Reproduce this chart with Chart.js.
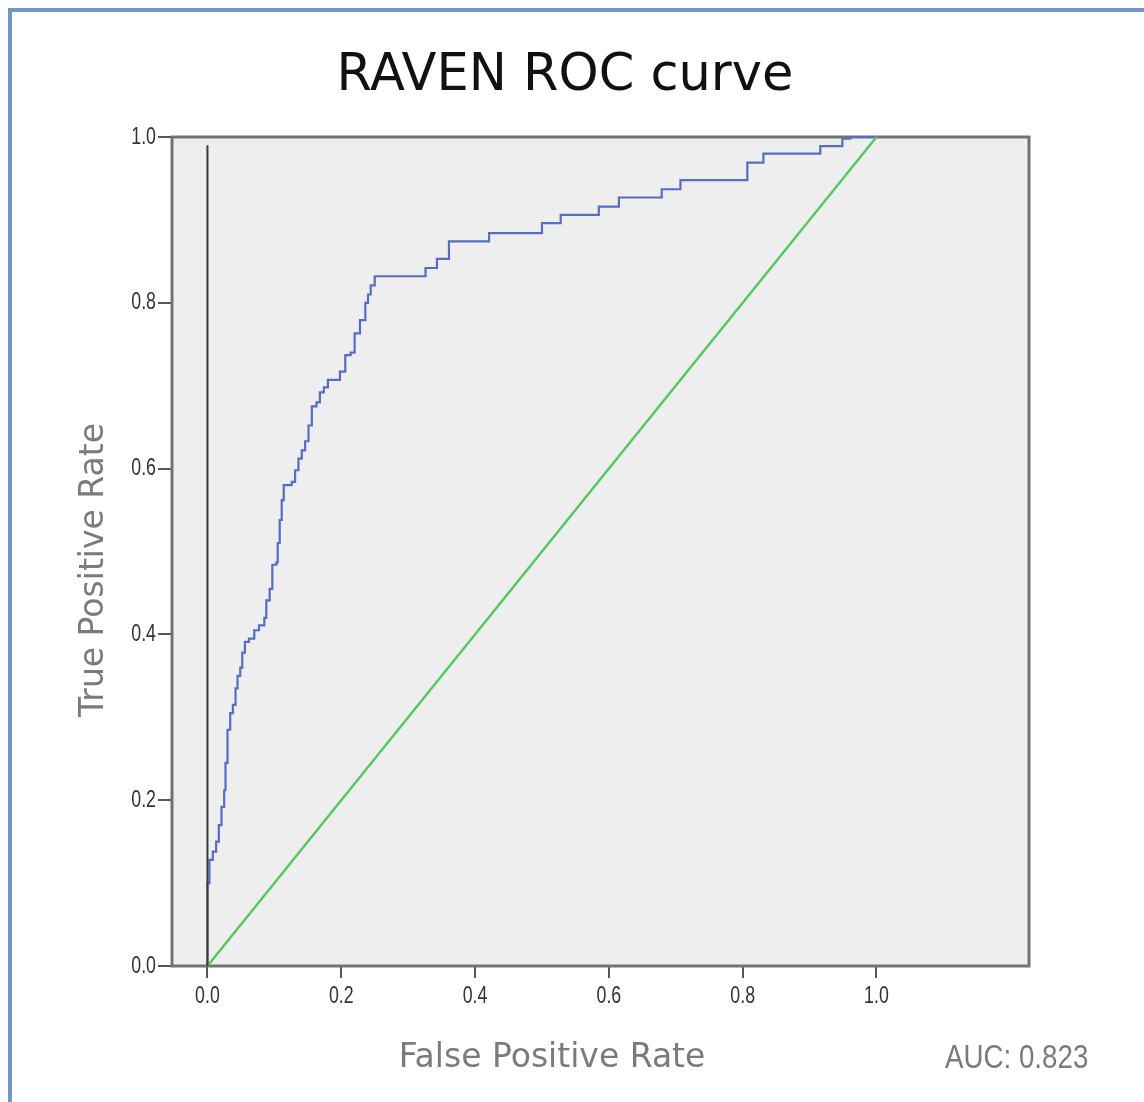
<!DOCTYPE html>
<html>
<head>
<meta charset="utf-8">
<title>RAVEN ROC curve</title>
<script src="https://cdn.jsdelivr.net/npm/chart.js@4.4.1/dist/chart.umd.min.js"></script>
<style>
  html, body { margin: 0; padding: 0; background: #fff; overflow: hidden; }
  #wrap { position: relative; width: 1144px; height: 1102px; }
  #frame {
    position: absolute; left: 8px; top: 8px; width: 1200px; height: 1200px;
    border-left: 4px solid #7196c6; border-top: 4px solid #7196c6;
  }
  #roc { position: absolute; left: 0; top: 0; }
</style>
</head>
<body>
<div id="wrap">
  <div id="frame"></div>
  <canvas id="roc" width="1144" height="1102"></canvas>
</div>
<script>
// ROC step points: false positive rate / true positive rate at each step
const fpr = [
  0.000, 0.000, 0.003, 0.008, 0.013, 0.017, 0.021, 0.025, 0.027, 0.030,
  0.034, 0.038, 0.042, 0.045, 0.049, 0.052, 0.056, 0.062, 0.070, 0.077,
  0.085, 0.088, 0.093, 0.097, 0.103, 0.105, 0.108, 0.111, 0.114, 0.126,
  0.131, 0.136, 0.141, 0.146, 0.151, 0.156, 0.163, 0.168, 0.174, 0.180,
  0.198, 0.206, 0.214, 0.220, 0.228, 0.236, 0.240, 0.244, 0.250, 0.326,
  0.343, 0.361, 0.421, 0.500, 0.528, 0.585, 0.615, 0.679, 0.707, 0.807,
  0.831, 0.916, 0.949, 0.961, 1.000
];
const tpr = [
  0.000, 0.100, 0.128, 0.138, 0.150, 0.170, 0.192, 0.212, 0.245, 0.285,
  0.305, 0.315, 0.335, 0.350, 0.360, 0.378, 0.391, 0.395, 0.405, 0.411,
  0.420, 0.441, 0.455, 0.484, 0.487, 0.510, 0.538, 0.562, 0.580, 0.584,
  0.598, 0.612, 0.622, 0.633, 0.652, 0.675, 0.680, 0.692, 0.698, 0.707,
  0.717, 0.737, 0.740, 0.763, 0.779, 0.800, 0.810, 0.821, 0.832, 0.842,
  0.853, 0.874, 0.884, 0.896, 0.906, 0.916, 0.927, 0.937, 0.948, 0.969,
  0.980, 0.989, 0.998, 1.000, 1.000
];

// chance line and the vertical reference line at x = 0
const diagX = [0, 1];
const diagY = [0, 1];
const refX = [0, 0];
const refY = [0, 0.99];

const xTickValues = [0, 0.2, 0.4, 0.6, 0.8, 1.0];
const yTickValues = [0, 0.2, 0.4, 0.6, 0.8, 1.0];
const xRange = [-0.053, 1.228];

const titleText = 'RAVEN ROC curve';
const xTitle = 'False Positive Rate';
const yTitle = 'True Positive Rate';
const aucText = 'AUC: 0.823';

const toPoints = (xs, ys) => xs.map((x, i) => ({ x, y: ys[i] }));

// narrow text: squeeze Liberation Sans horizontally
function narrowText(ctx, text, x, y, squeeze) {
  ctx.save();
  ctx.translate(x, y);
  ctx.scale(squeeze, 1);
  ctx.fillText(text, 0, 0);
  ctx.restore();
}

// grey plot panel with a dark frame
const panel = {
  id: 'panel',
  beforeDatasetsDraw(chart) {
    const { ctx, chartArea: a } = chart;
    ctx.save();
    ctx.fillStyle = '#eeeeee';
    ctx.fillRect(a.left, a.top, a.right - a.left, a.bottom - a.top);
    ctx.strokeStyle = '#727272';
    ctx.lineWidth = 3;
    ctx.strokeRect(a.left, a.top, a.right - a.left, a.bottom - a.top);
    ctx.restore();
  }
};

// condensed tick labels placed from the scales' own tick values
const tickLabels = {
  id: 'tickLabels',
  afterDraw(chart) {
    const { ctx, scales: { x, y } } = chart;
    ctx.save();
    ctx.fillStyle = '#333';
    ctx.font = '24px "Liberation Sans", Arial, sans-serif';
    ctx.textBaseline = 'middle';
    ctx.textAlign = 'right';
    y.ticks.forEach(t => {
      narrowText(ctx, t.value.toFixed(1), y.right - 16, y.getPixelForValue(t.value), 0.74);
    });
    ctx.textAlign = 'center';
    ctx.textBaseline = 'top';
    x.ticks.forEach(t => {
      narrowText(ctx, t.value.toFixed(1), x.getPixelForValue(t.value), x.top + 18, 0.74);
    });
    ctx.restore();
  }
};

// titles and AUC note
const labels = {
  id: 'labels',
  afterDraw(chart) {
    const ctx = chart.ctx;
    ctx.save();
    ctx.textBaseline = 'alphabetic';

    ctx.fillStyle = '#111';
    ctx.font = '51px "DejaVu Sans"';
    ctx.textAlign = 'center';
    ctx.fillText(titleText, 565, 90);

    ctx.fillStyle = '#7b7b7b';
    ctx.font = '33px "DejaVu Sans"';
    ctx.fillText(xTitle, 552, 1067);

    ctx.save();
    ctx.translate(103, 570);
    ctx.rotate(-Math.PI / 2);
    ctx.fillText(yTitle, 0, 0);
    ctx.restore();

    ctx.textAlign = 'left';
    ctx.font = '33px "Liberation Sans", Arial, sans-serif';
    narrowText(ctx, aucText, 945, 1068, 0.84);
    ctx.restore();
  }
};

new Chart(document.getElementById('roc'), {
  type: 'scatter',
  data: {
    datasets: [
      {
        label: 'Reference',
        data: toPoints(refX, refY),
        showLine: true,
        borderColor: '#3a3a3a',
        borderWidth: 2,
        pointRadius: 0,
        clip: false
      },
      {
        label: 'Chance',
        data: toPoints(diagX, diagY),
        showLine: true,
        borderColor: 'rgb(86, 200, 96)',
        borderWidth: 2.5,
        pointRadius: 0,
        clip: false
      },
      {
        label: 'RAVEN',
        data: toPoints(fpr, tpr),
        showLine: true,
        stepped: 'before',
        borderColor: 'rgb(88, 108, 196)',
        borderWidth: 2.2,
        pointRadius: 0,
        clip: false
      }
    ]
  },
  options: {
    responsive: false,
    animation: false,
    layout: { padding: { left: 0, top: 137, right: 115, bottom: 0 } },
    plugins: {
      legend: { display: false },
      tooltip: { enabled: false }
    },
    scales: {
      x: {
        type: 'linear',
        min: xRange[0],
        max: xRange[1],
        afterBuildTicks: (scale) => { scale.ticks = xTickValues.map(v => ({ value: v })); },
        afterFit: (scale) => { scale.height = 136; },
        grid: { drawOnChartArea: false, drawTicks: true, tickLength: 12, color: '#555', lineWidth: 2 },
        border: { display: false },
        ticks: { display: false }
      },
      y: {
        type: 'linear',
        min: 0,
        max: 1,
        afterBuildTicks: (scale) => { scale.ticks = yTickValues.map(v => ({ value: v })); },
        afterFit: (scale) => { scale.width = 172; },
        grid: { drawOnChartArea: false, drawTicks: true, tickLength: 14, color: '#555', lineWidth: 2 },
        border: { display: false },
        ticks: { display: false }
      }
    }
  },
  plugins: [panel, tickLabels, labels]
});
</script>
</body>
</html>
